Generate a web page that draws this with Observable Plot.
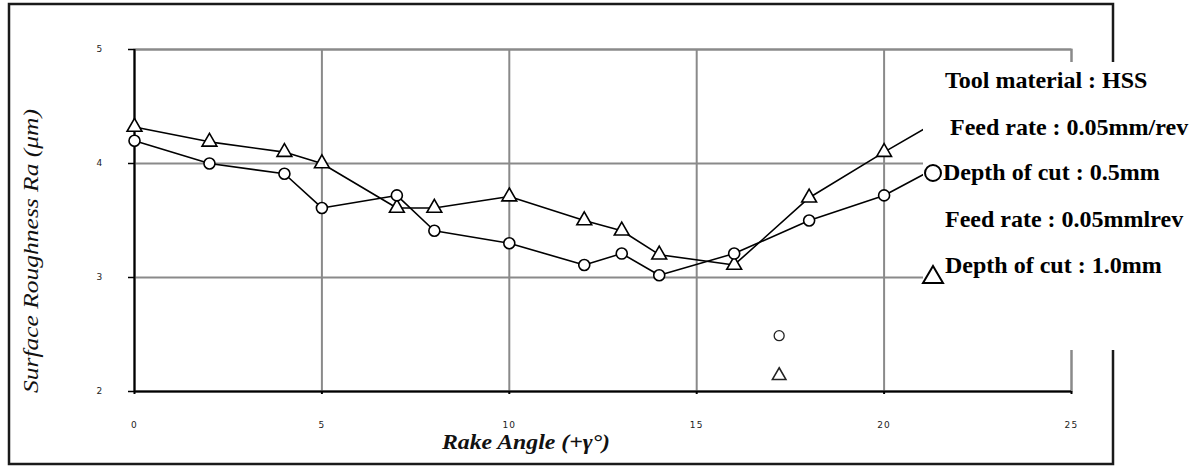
<!DOCTYPE html>
<html><head><meta charset="utf-8">
<script src="https://cdn.jsdelivr.net/npm/d3@7"></script>
<script src="https://cdn.jsdelivr.net/npm/@observablehq/plot@0.6"></script>
<style>body{margin:0;background:#fff} #chart{width:1201px;height:466px}</style>
</head><body><div id="chart"></div>
<script>
// Rake angle (deg) and surface roughness Ra (µm)
const rakeAngle = [0, 2, 4, 5, 7, 8, 10, 12, 13, 14, 16, 18, 20, 22];
const raDepth05 = [4.20, 4.00, 3.91, 3.61, 3.72, 3.41, 3.30, 3.11, 3.21, 3.02, 3.21, 3.50, 3.72, 4.07];
const raDepth10 = [4.32, 4.19, 4.10, 4.00, 3.61, 3.61, 3.71, 3.50, 3.41, 3.20, 3.11, 3.70, 4.10, 4.48];
const xTicks = [0, 5, 10, 15, 20, 25];
const yTicks = [2, 3, 4, 5];
// leftover legend markers inside the plot area
const strayX = [17.2];
const strayCircleY = [2.49];
const strayTriangleY = [2.14];
const legendLines = ["Tool material : HSS", "Feed rate : 0.05mm/rev", "Depth of cut : 0.5mm", "Feed rate : 0.05mmlrev", "Depth of cut : 1.0mm"];
const xTitle = "Rake Angle (+γ°)";
const yTitle = "Surface Roughness Ra (μm)";

const d05 = rakeAngle.map((x, i) => ({x, y: raDepth05[i]}));
const d10 = rakeAngle.map((x, i) => ({x, y: raDepth10[i]}));
const sc = strayX.map((x, i) => ({x, y: strayCircleY[i]}));
const st = strayX.map((x, i) => ({x, y: strayTriangleY[i]}));

const grid = {stroke: "#8a8a8a", strokeOpacity: 1, strokeWidth: 2};
const plot = Plot.plot({
  width: 1201, height: 466,
  marginLeft: 134, marginRight: 130, marginTop: 49, marginBottom: 75,
  x: {domain: [0, 25], ticks: xTicks},
  y: {domain: [2, 5], ticks: yTicks},
  style: {fontFamily: "'DejaVu Sans', sans-serif", fontSize: "9px", color: "#222", background: "white"},
  marks: [
    Plot.gridX(xTicks, grid),
    Plot.gridY(yTicks, grid),
    Plot.frame({stroke: "#8a8a8a", strokeWidth: 2}),
    Plot.ruleX([0], {stroke: "#000", strokeWidth: 2}),
    Plot.ruleY([2], {stroke: "#000", strokeWidth: 2}),
    Plot.axisX(xTicks, {tickSize: 3, tickPadding: 27, label: null, tickFormat: d3.format("d"), stroke: "#000", strokeWidth: 2}),
    Plot.axisY(yTicks, {tickSize: 6, tickPadding: 25, label: null, tickFormat: d3.format("d"), stroke: "#000", strokeWidth: 1.5}),
    Plot.line(d10, {x: "x", y: "y", stroke: "#000", strokeWidth: 1.6}),
    Plot.line(d05, {x: "x", y: "y", stroke: "#000", strokeWidth: 1.6}),
    Plot.dot(d10, {x: "x", y: "y", symbol: "triangle", r: 5.5, fill: "white", stroke: "#000", strokeWidth: 1.6}),
    Plot.dot(d05, {x: "x", y: "y", symbol: "circle", r: 5.5, fill: "white", stroke: "#000", strokeWidth: 1.6}),
    Plot.dot(sc, {x: "x", y: "y", symbol: "circle", r: 5, fill: "white", stroke: "#222", strokeWidth: 1.3}),
    Plot.dot(st, {x: "x", y: "y", symbol: "triangle", r: 5, fill: "white", stroke: "#222", strokeWidth: 1.6})
  ]
});
document.getElementById("chart").append(plot);

const svg = d3.select(plot);
svg.selectAll("g[aria-label='x-axis tick label'] text, g[aria-label='y-axis tick label'] text").attr("letter-spacing", "1.2px");
// outer chart frame
svg.append("rect").attr("x", 9).attr("y", 4).attr("width", 1104).attr("height", 460)
  .attr("fill", "none").attr("stroke", "#1a1a1a").attr("stroke-width", 2.5);
// axis titles
svg.append("text").attr("transform", "translate(38,251) rotate(-90)")
  .attr("text-anchor", "middle").attr("font-family", "'Liberation Serif', serif").attr("font-style", "italic")
  .attr("font-size", 20).attr("fill", "#111").attr("textLength", 284).attr("lengthAdjust", "spacingAndGlyphs").text(yTitle);
svg.append("text").attr("x", 526).attr("y", 449)
  .attr("text-anchor", "middle").attr("font-family", "'Liberation Serif', serif").attr("font-style", "italic").attr("font-weight", "bold")
  .attr("font-size", 20).attr("fill", "#111").attr("textLength", 168).attr("lengthAdjust", "spacingAndGlyphs").text(xTitle);
// legend box
svg.append("rect").attr("x", 923).attr("y", 62).attr("width", 278).attr("height", 288).attr("fill", "white");
const lx = [945, 950, 943, 945, 945];
const ly = [88, 135, 180, 227, 273];
legendLines.forEach((t, i) => {
  svg.append("text").attr("x", lx[i]).attr("y", ly[i]).attr("text-anchor", "start")
    .attr("font-family", "'Liberation Serif', 'Times New Roman', serif")
    .attr("font-weight", "bold").attr("font-size", 24).attr("fill", "#000").text(t);
});
svg.append("circle").attr("cx", 933).attr("cy", 173).attr("r", 8).attr("fill", "white").attr("stroke", "#000").attr("stroke-width", 2);
svg.append("path").attr("d", "M923,283L943,283L933,266Z").attr("fill", "white").attr("stroke", "#000").attr("stroke-width", 2);
</script>
</body></html>
